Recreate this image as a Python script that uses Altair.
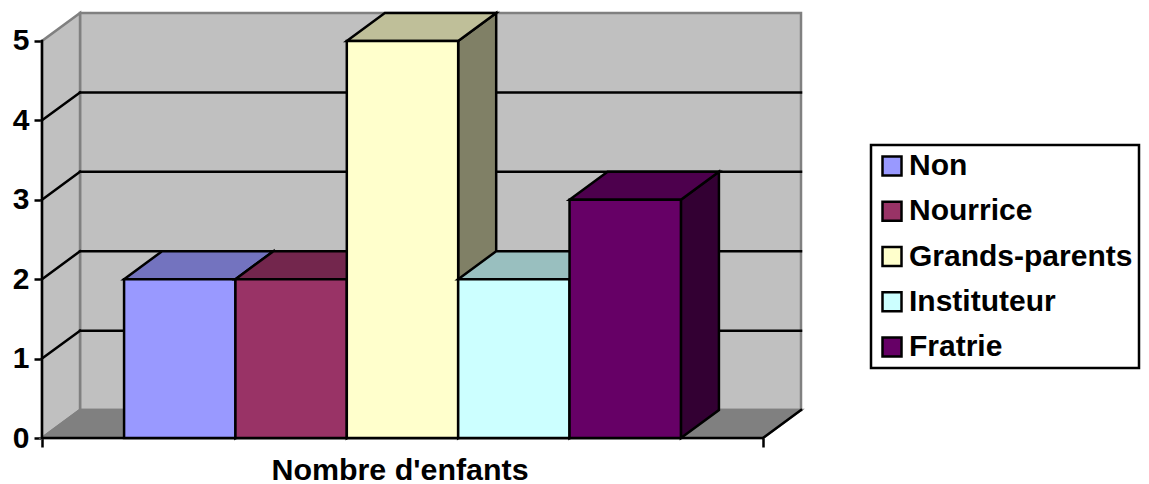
import altair as alt
import pandas as pd

categories = ["Non", "Nourrice", "Grands-parents", "Instituteur", "Fratrie"]
values = [2, 2, 5, 2, 3]
front_colors = ["#9999FF", "#993366", "#FFFFCC", "#CCFFFF", "#660066"]
top_colors = ["#7373BF", "#73264D", "#BFBF99", "#99BFBF", "#4D004D"]
side_colors = ["#666699", "#4D1933", "#808066", "#668080", "#330033"]
axis_title = "Nombre d'enfants"
y_ticks = [0, 1, 2, 3, 4, 5]

FONT = "Liberation Sans"
GAP = 0.737          # empty floor beside the bars, in bar widths
DX = 0.3414          # depth of the box along x, in bar widths
DY = 0.352           # depth of the box along y, in value units
FRONT = 2 * GAP + len(categories)
YMAX = max(y_ticks)
W, H = 759, 425
SW = 2.5

xs = alt.Scale(domain=[0, FRONT + DX], nice=False, zero=False)
ys = alt.Scale(domain=[0, YMAX + DY], nice=False, zero=False)
x_axis = alt.Axis(
    values=[0, FRONT], labels=False, domain=False, grid=False,
    tickColor="black", tickWidth=SW, tickSize=9, title=axis_title,
    titleFont=FONT, titleFontSize=30.4, titleFontWeight="bold", titleColor="black",
    titleX=357.5, titleY=41, titleBaseline="alphabetic", titleAlign="center",
    titleAnchor="start",
)
y_axis = alt.Axis(
    values=y_ticks, domain=False, grid=False, title=None, format="d",
    tickColor="black", tickWidth=SW, tickSize=8, labelPadding=5,
    labelFont=FONT, labelFontSize=30, labelFontWeight="bold", labelColor="black",
)
X = alt.X("x:Q", scale=xs, axis=x_axis)
Y = alt.Y("y:Q", scale=ys, axis=y_axis)
Y2 = alt.Y2("y2:Q")


def poly(rows, fill, stroke, sw=SW):
    df = pd.DataFrame(rows, columns=["x", "y", "y2"])
    return alt.Chart(df).mark_area(
        fill=fill, stroke=stroke, strokeWidth=sw, strokeJoin="miter", opacity=1
    ).encode(x=X, y=Y, y2=Y2)


def seg(x0, y0, x1, y1, color, sw=SW):
    df = pd.DataFrame({"x": [x0, x1], "y": [y0, y1]})
    return alt.Chart(df).mark_line(color=color, strokeWidth=sw, strokeCap="square").encode(x=X, y=Y)


layers = []

# back wall
wall = pd.DataFrame({"x": [DX], "x2": [FRONT + DX], "y": [DY], "y2": [YMAX + DY]})
layers.append(
    alt.Chart(wall).mark_rect(fill="#C0C0C0", stroke="#808080", strokeWidth=SW).encode(
        x=X, x2="x2:Q", y=Y, y2="y2:Q",
    )
)
# left wall and floor
layers.append(poly([[0, 0, YMAX], [DX, DY, YMAX + DY]], "#C0C0C0", "#808080"))
layers.append(poly([[0, 0, 0], [DX, 0, DY], [FRONT, 0, DY], [FRONT + DX, DY, DY]], "#808080", "#808080"))

# gridlines on the walls
for v in y_ticks[1:-1]:
    layers.append(seg(0, v, DX, v + DY, "black"))
    layers.append(seg(DX, v + DY, FRONT + DX, v + DY, "black"))
layers.append(seg(FRONT, 0, FRONT + DX, DY, "black"))

# axis lines
layers.append(seg(0, 0, 0, YMAX, "black"))
layers.append(seg(0, 0, FRONT, 0, "black"))

# bars, left to right
color_scale = alt.Scale(domain=categories, range=front_colors)
for i, (cat, v) in enumerate(zip(categories, values)):
    x0 = GAP + i
    x1 = x0 + 1
    layers.append(poly([[x1, v, 0], [x1 + DX, v + DY, DY]], side_colors[i], "black"))
    layers.append(poly([[x0, v, v], [x0 + DX, v, v + DY], [x1, v, v + DY], [x1 + DX, v + DY, v + DY]],
                       top_colors[i], "black"))
    front = pd.DataFrame({"x": [x0], "x2": [x1], "y": [0], "y2": [v], "cat": [cat]})
    layers.append(
        alt.Chart(front).mark_rect(stroke="black", strokeWidth=SW).encode(
            x=X, x2="x2:Q", y=Y, y2="y2:Q",
            color=alt.Color(
                "cat:N", scale=color_scale,
                legend=alt.Legend(
                    title=None, orient="none", legendX=829, legendY=132,
                    symbolType="square", symbolSize=361, symbolStrokeColor="black",
                    symbolStrokeWidth=SW, symbolOpacity=1, symbolOffset=0, labelOffset=2,
                    labelFont=FONT, labelFontSize=30, labelFontWeight="bold", labelColor="black",
                    labelLimit=400, rowPadding=15.25, padding=6,
                    strokeColor="black", fillColor="white",
                ),
            ),
        )
    )

chart = (
    alt.layer(*layers)
    .properties(
        width=W, height=H,
        autosize=alt.AutoSizeParams(type="none"),
        padding={"left": 34, "top": 5, "right": 340, "bottom": 46},
        background="white",
    )
    .configure_view(stroke=None)
    .configure_legend(strokeWidth=SW)
)
chart.save("out.html", embed_options={"renderer": "svg", "actions": False})
